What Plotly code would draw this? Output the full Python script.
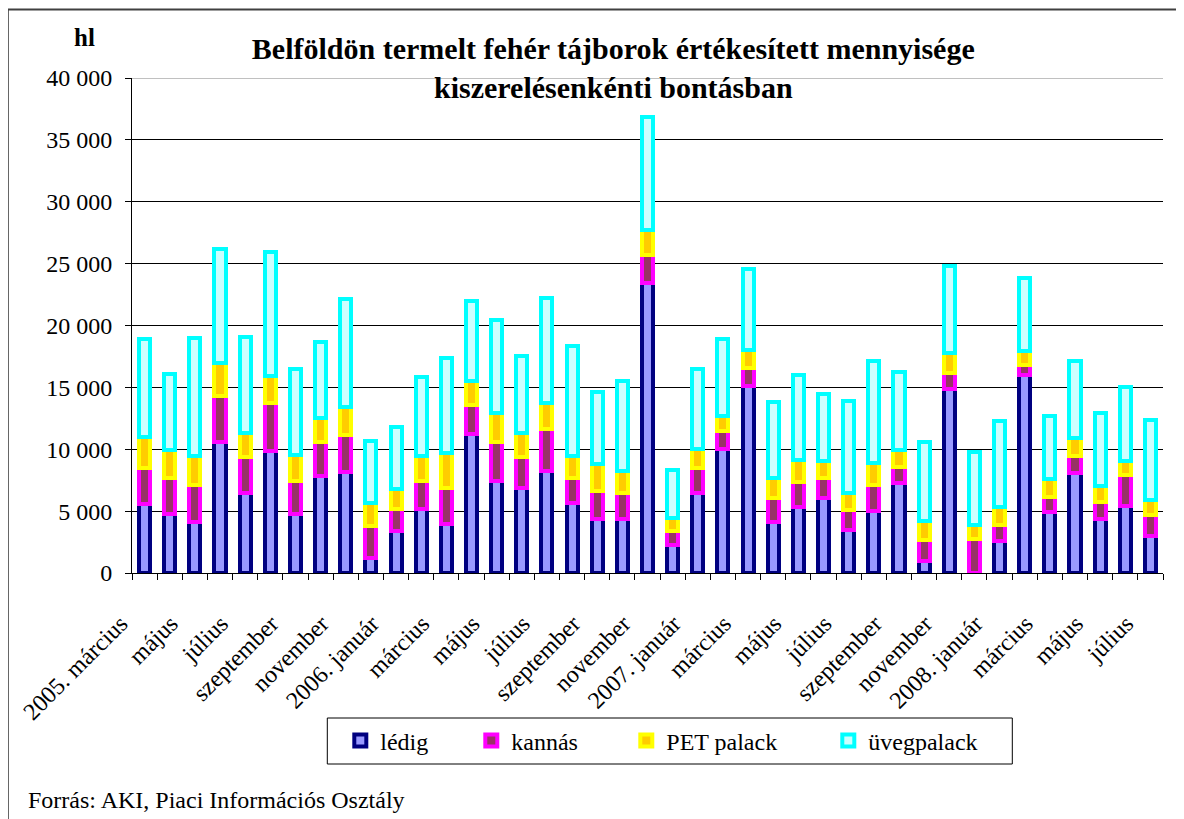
import plotly.graph_objects as go

months = [
    "2005. március", "április", "május", "június", "július", "augusztus",
    "szeptember", "október", "november", "december",
    "2006. január", "február", "március", "április", "május", "június",
    "július", "augusztus", "szeptember", "október", "november", "december",
    "2007. január", "február", "március", "április", "május", "június",
    "július", "augusztus", "szeptember", "október", "november", "december",
    "2008. január", "február", "március", "április", "május", "június", "július",
]

ledig = [5600, 4800, 4100, 10600, 6450, 9850, 4800, 7800, 8200, 1200,
         3400, 5200, 4000, 11200, 7450, 6850, 8250, 5650, 4350, 4350,
         23400, 2250, 6450, 10050, 15100, 4150, 5300, 6050, 3450, 5050,
         7250, 950, 14900, 0, 2600, 16000, 4950, 8100, 4400, 5450, 3000]
kannas = [2900, 2850, 3000, 3700, 2900, 3900, 2600, 2800, 2950, 2600,
          1750, 2250, 2900, 2400, 3100, 2500, 3400, 2050, 2300, 2100,
          2300, 1150, 2050, 1450, 1500, 1950, 2050, 1600, 1650, 2050,
          1350, 1700, 1300, 2750, 1300, 800, 1200, 1350, 1300, 2450, 1700]
pet = [2500, 2300, 2350, 2700, 1950, 2150, 2100, 1900, 2300, 1850,
       1600, 2000, 2800, 1950, 2400, 1950, 2050, 1750, 2150, 1800,
       2000, 1050, 1500, 1150, 1400, 1550, 1800, 1400, 1350, 1750,
       1300, 1550, 1600, 1150, 1450, 1150, 1450, 1450, 1300, 1150, 1200]
uveg = [7900, 6100, 9550, 9150, 7750, 10050, 6950, 6150, 8700, 5050,
        5050, 6400, 7650, 6450, 7500, 6250, 8550, 8900, 5850, 7250,
        9150, 3850, 6500, 6250, 6600, 6150, 6850, 5450, 7450, 8250,
        6350, 6400, 7000, 5900, 6900, 5850, 5100, 6250, 5900, 6000, 6500]

series_names = ["lédig", "kannás", "PET palack", "üvegpalack"]
y_ticks = [0, 5000, 10000, 15000, 20000, 25000, 30000, 35000, 40000]
y_ticktext = ["0", "5 000", "10 000", "15 000", "20 000", "25 000", "30 000", "35 000", "40 000"]

x = list(range(len(months)))
FONT = "Liberation Serif"

styles = [
    ("#9999FF", "#000080"),
    ("#993366", "#FF00FF"),
    ("#FFCC00", "#FFFF00"),
    ("#CCFFFF", "#00FFFF"),
]

# page body has an 8px margin: figure is 1176x811 placed at (8, 8)
W, H = 1176, 811
PL, PR, PT, PB = 123.7, 1154.7, 70, 565   # plot area in figure px
pw, ph = PR - PL, PB - PT


def px(xf):
    return (xf - 8 - PL) / pw


def py(yf):
    return (PB - (yf - 8)) / ph


legend_ids = ["legend", "legend2", "legend3", "legend4"]
legend_text_x = [382, 513, 668, 870]

fig = go.Figure()
for name, vals, (fill, line), lid in zip(series_names, [ledig, kannas, pet, uveg], styles, legend_ids):
    fig.add_trace(go.Bar(
        x=x, y=vals, name=name, width=0.44, legend=lid,
        marker=dict(color=fill, line=dict(color=line, width=4)),
    ))

legend_layout = {}
for lid, tx in zip(legend_ids, legend_text_x):
    legend_layout[lid] = dict(
        orientation="h", x=px(tx - 42), xanchor="left", y=py(741), yanchor="middle",
        bgcolor="rgba(0,0,0,0)", borderwidth=0, font=dict(size=24, family=FONT, color="black"),
        itemwidth=30,
    )

fig.update_layout(
    barmode="stack",
    width=W, height=H,
    margin=dict(l=PL, r=W - PR, t=PT, b=H - PB, autoexpand=False),
    paper_bgcolor="white", plot_bgcolor="white",
    font=dict(family=FONT, color="black", size=24),
    showlegend=True,
    xaxis=dict(
        range=[-0.5, len(months) - 0.5],
        tickmode="array", tickvals=x[::2], ticktext=months[::2],
        tickangle=-45, ticks="", showline=True, linecolor="black", linewidth=1,
        tickfont=dict(size=24, family=FONT), ticklabelstandoff=26, ticklabelshift=-24,
        minor=dict(tickmode="array", tickvals=[i - 0.5 for i in range(len(months) + 1)],
                   ticks="outside", ticklen=6, tickcolor="black", tickwidth=1),
        showgrid=False, zeroline=False, automargin=False,
    ),
    yaxis=dict(
        range=[0, 40000], tickmode="array", tickvals=y_ticks, ticktext=y_ticktext,
        ticks="outside", ticklen=6, tickcolor="black",
        showline=True, linecolor="black", linewidth=1,
        showgrid=True, gridcolor="black", gridwidth=1, zeroline=False,
        tickfont=dict(size=24, family=FONT), ticklabelstandoff=8, automargin=False,
    ),
    title=dict(
        text="<b>Belföldön termelt fehér tájborok értékesített mennyisége<br>kiszerelésenkénti bontásban</b>",
        x=px(613), xref="paper", xanchor="center",
        y=(H - (59 - 8)) / H, yref="container", yanchor="top",
        font=dict(size=30, family=FONT, color="black"),
    ),
    **legend_layout,
)

# grey top border line at 40 000
fig.add_shape(type="line", xref="paper", yref="y", x0=0, x1=1, y0=40000, y1=40000,
              line=dict(color="#C0C0C0", width=2), layer="above")
# legend frame
fig.add_shape(type="rect", xref="paper", yref="paper",
              x0=px(327), x1=px(1012), y0=py(764), y1=py(718),
              line=dict(color="black", width=1), fillcolor="rgba(0,0,0,0)", layer="above")
# outer chart frame
fig.add_shape(type="rect", xref="paper", yref="paper",
              x0=px(7.5), x1=1.2, y0=-0.7, y1=py(9.5),
              line=dict(color="#404040", width=2), fillcolor="rgba(0,0,0,0)", layer="above")

fig.add_annotation(text="<b>hl</b>", xref="paper", yref="paper",
                   x=px(84), y=py(38), xanchor="center", yanchor="middle",
                   showarrow=False, font=dict(size=25, family=FONT, color="black"))
fig.add_annotation(text="Forrás: AKI, Piaci Információs Osztály", xref="paper", yref="paper",
                   x=px(26), y=py(800), xanchor="left", yanchor="middle",
                   showarrow=False, font=dict(size=24, family=FONT, color="black"))

fig.write_html("out.html")
